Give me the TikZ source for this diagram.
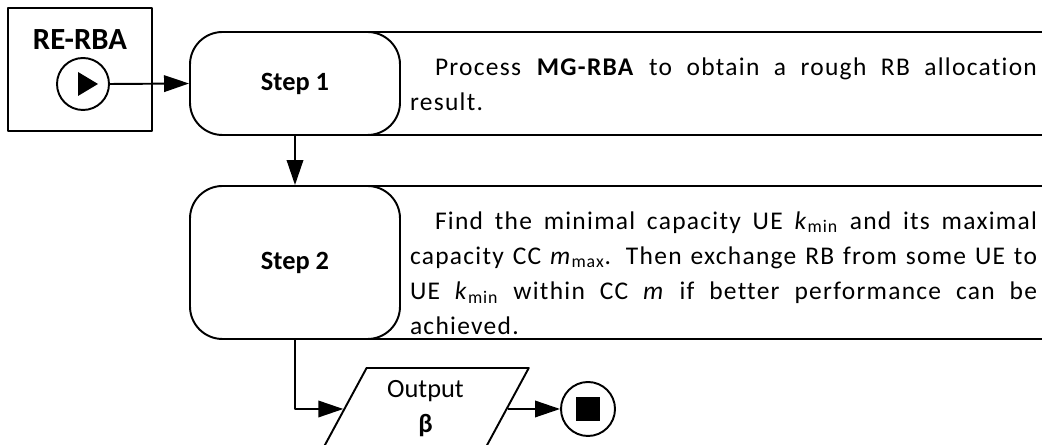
\documentclass[tikz,border=0pt]{standalone}
\usepackage{fontspec}
\setmainfont{Carlito}
\usetikzlibrary{calc,arrows.meta,shapes.geometric}
\hyphenpenalty=10000
\exhyphenpenalty=10000

\begin{document}
\begin{tikzpicture}[>={Triangle[length=0.5cm,width=0.33cm]},line join=round,line width=1.1pt,
  font=\fontsize{14.5}{20}\selectfont\addfontfeature{LetterSpace=5,Ligatures=NoCommon},
  stepbox/.style={draw, fill=white, rounded corners=0.65cm, minimum width=4.2cm, font=\fontsize{15}{18}\selectfont\bfseries},
  txt/.style={text width=12.54cm, align=justify, inner sep=0pt}]
  \useasboundingbox (0,0) rectangle (20.84,8.9);
  \clip (0,0) rectangle (20.84,8.9);

  % start block
  \node[draw, minimum width=2.88cm, minimum height=2.46cm] (re) at (1.6,7.51) {};
  \node[font=\fontsize{17.5}{20}\selectfont\bfseries] (relabel) at (1.6,8.1) {RE-RBA};
  \node[draw, circle, minimum size=1.04cm] (play) at (1.66,7.22) {};
  \fill (1.56,7.46) -- (1.96,7.22) -- (1.56,6.98) -- cycle;

  % description boxes, the steps go on top of them
  \draw (7,8.26) rectangle (21.5,6.2);
  \draw (7,5.18) rectangle (21.5,2.12);
  \node[txt] (txt1) at (14.47,7.22) {\hspace*{0.5cm}Process \textbf{MG-RBA} to obtain a rough RB allocation\linebreak result.};
  \node[txt] (txt2) at (14.47,3.44) {\hspace*{0.5cm}Find the minimal capacity UE \textit{k}\textsubscript{min} and its maximal\linebreak
    capacity CC \textit{m}\textsubscript{max}. Then exchange RB from some UE to\linebreak
    UE \textit{k}\textsubscript{min} within CC \textit{m} if better performance can be\linebreak
    achieved.};

  \node[stepbox, minimum height=2.06cm] (step1) at (5.9,7.23) {Step 1};
  \node[stepbox, minimum height=3.06cm] (step2) at (5.9,3.65) {Step 2};

  \node[draw, trapezium, trapezium left angle=64, trapezium right angle=116, trapezium stretches=true,
    minimum width=4.15cm, minimum height=1.64cm, align=center, font=\fontsize{15}{20}\selectfont] (out) at (8.51,0.72) {Output\\\textbf{β}};
  \node[draw, circle, minimum size=1.08cm] (stop) at (11.76,0.72) {};
  \fill ($(stop.center)+(-0.24,-0.24)$) rectangle ++(0.48,0.48);

  \draw[->] (play.east) -- (step1.west);
  \draw[->] (step1) -- (step2);
  \draw[->] (step2.south) |- (out.left side);
  \draw[->] (out.right side) -- (stop.west);
\end{tikzpicture}
\end{document}
